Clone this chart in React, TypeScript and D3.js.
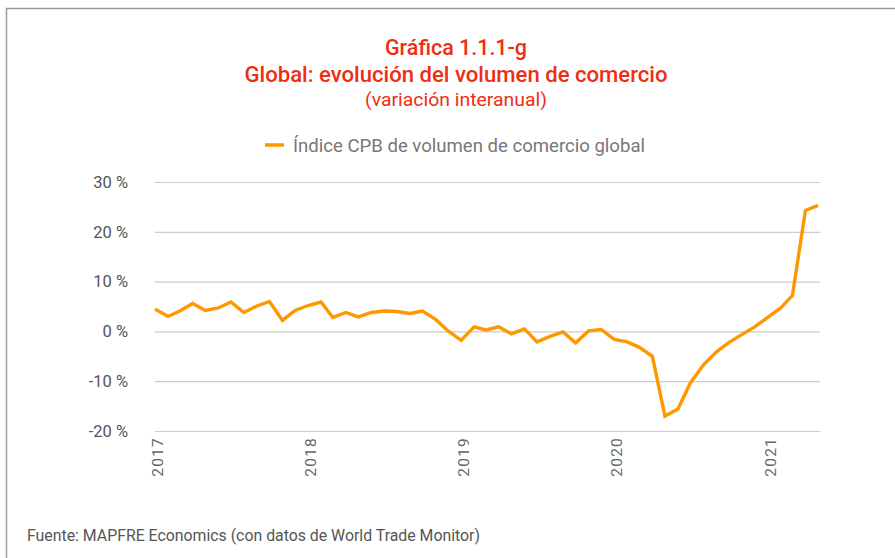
import React, { useEffect, useRef } from "react";
import * as d3 from "d3";

// monthly year-on-year change, Jan 2017 - May 2021
const years = [2017, 2018, 2019, 2020, 2021];
const values2017 = [4.5, 3.0, 4.1, 5.6, 4.2, 4.7, 5.9, 3.8, 5.1, 6.0, 2.2, 4.2];
const values2018 = [5.2, 5.9, 2.8, 3.8, 2.9, 3.8, 4.1, 4.0, 3.6, 4.1, 2.4, 0.1];
const values2019 = [-1.8, 0.9, 0.3, 0.9, -0.5, 0.5, -2.1, -1.0, -0.1, -2.3, 0.1, 0.4];
const values2020 = [-1.6, -2.1, -3.2, -5.0, -17.0, -15.6, -10.3, -6.7, -4.1, -2.2, -0.6, 0.9];
const values2021 = [2.8, 4.7, 7.2, 24.3, 25.3];
const yTicks = [-20, -10, 0, 10, 20, 30];
const seriesName = "Índice CPB de volumen de comercio global";

const App = () => {
    const svgRef = useRef(null);

    useEffect(() => {
        const width = 895;
        const height = 558;
        const svg = d3.select(svgRef.current);
        svg.selectAll("*").remove();

        const all = [values2017, values2018, values2019, values2020, values2021];
        const data = [];
        all.forEach((arr, i) => {
            arr.forEach((v, m) => data.push({ date: new Date(years[i], m, 1), value: v }));
        });

        // frame
        svg.append("path")
            .attr("d", `M6.5,${height} V8.5 H${width}`)
            .attr("fill", "none")
            .attr("stroke", "#9a9a9a")
            .attr("stroke-width", 1.5);

        // titles
        const titles = [
            { t: "Gráfica 1.1.1-g", y: 55, size: 22, w: 142, weight: 500 },
            { t: "Global: evolución del volumen de comercio", y: 82, size: 22, w: 423, weight: 500 },
            { t: "(variación interanual)", y: 106, size: 19, w: 182, weight: 400 },
        ];
        titles.forEach((d) => {
            svg.append("text")
                .attr("x", 456)
                .attr("y", d.y)
                .attr("text-anchor", "middle")
                .attr("font-family", "Roboto")
                .attr("font-size", d.size)
                .attr("font-weight", d.weight)
                .attr("fill", "#ee2e12")
                .attr("textLength", d.w)
                .attr("lengthAdjust", "spacingAndGlyphs")
                .text(d.t);
        });

        // scales
        const x = d3.scaleTime()
            .domain([data[0].date, data[data.length - 1].date])
            .range([155, 818]);
        const y = d3.scaleLinear().domain([-20, 30]).range([431, 182]);

        // gridlines + y axis labels
        const yAxis = svg.append("g")
            .attr("transform", "translate(155,0)")
            .call(d3.axisLeft(y).tickValues(yTicks).tickSize(-665).tickPadding(27)
                .tickFormat((d) => `${d} %`));
        yAxis.select(".domain").remove();
        yAxis.selectAll("line").attr("stroke", "#cccccc").attr("stroke-width", 1.2);
        yAxis.selectAll("text")
            .attr("font-family", "Roboto")
            .attr("font-size", 16.5)
            .attr("fill", "#555");

        // x axis labels (rotated years)
        const xAxis = svg.append("g")
            .attr("transform", "translate(2,431)")
            .call(d3.axisBottom(x)
                .tickValues(years.map((yr) => new Date(yr, 0, 1)))
                .tickSize(0)
                .tickFormat(d3.timeFormat("%Y")));
        xAxis.select(".domain").remove();
        xAxis.selectAll("text")
            .attr("font-family", "Roboto")
            .attr("font-size", 15.5)
            .attr("fill", "#666")
            .attr("letter-spacing", 1.2)
            .attr("transform", "rotate(-90)")
            .attr("text-anchor", "end")
            .attr("dy", "0.35em")
            .attr("dx", 0)
            .attr("x", -6)
            .attr("y", 0);

        // line
        const line = d3.line()
            .x((d) => x(d.date))
            .y((d) => y(d.value));
        svg.append("path")
            .datum(data)
            .attr("d", line)
            .attr("fill", "none")
            .attr("stroke", "#ff9700")
            .attr("stroke-width", 3.4)
            .attr("stroke-linejoin", "miter");

        // legend
        svg.append("line")
            .attr("x1", 265).attr("x2", 284)
            .attr("y1", 145).attr("y2", 145)
            .attr("stroke", "#ff9700")
            .attr("stroke-width", 3.5);
        svg.append("text")
            .attr("x", 293)
            .attr("y", 152)
            .attr("font-family", "Roboto")
            .attr("font-size", 18.5)
            .attr("fill", "#777")
            .attr("textLength", 352)
            .attr("lengthAdjust", "spacingAndGlyphs")
            .text(seriesName);

        // source
        svg.append("text")
            .attr("x", 27)
            .attr("y", 541)
            .attr("font-family", "Roboto")
            .attr("font-size", 16)
            .attr("fill", "#555")
            .attr("textLength", 453)
            .attr("lengthAdjust", "spacingAndGlyphs")
            .text("Fuente: MAPFRE Economics (con datos de World Trade Monitor)");
    }, []);

    return (
        <div style={{ position: "absolute", left: 0, top: 0 }}>
            <svg ref={svgRef} width={895} height={558} style={{ display: "block", background: "#fff" }}></svg>
        </div>
    );
};

export default App;
